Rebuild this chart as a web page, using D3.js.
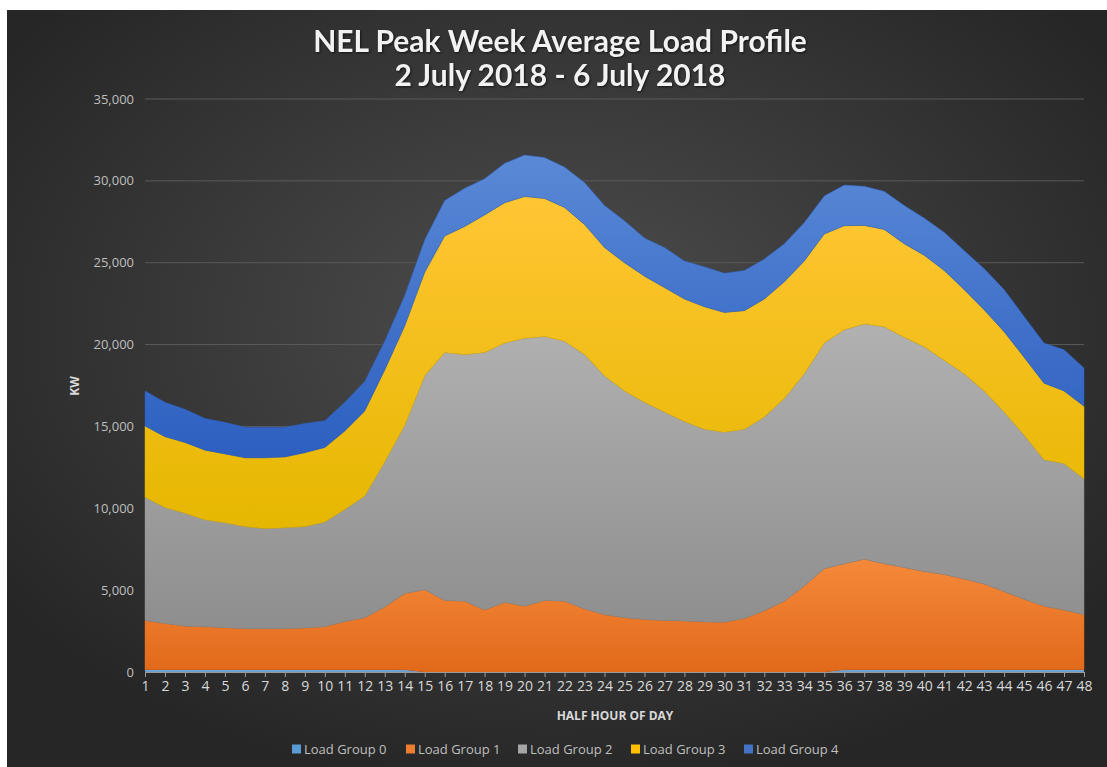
<!DOCTYPE html>
<html><head><meta charset="utf-8">
<script src="https://cdn.jsdelivr.net/npm/d3@7/dist/d3.min.js"></script>
<style>
html,body{margin:0;padding:0;background:#fff;}
svg{display:block;}
</style></head>
<body><svg id="chart" width="1107" height="767"></svg>
<script>
const halfHours = d3.range(1, 49);
const seriesNames = ["Load Group 0","Load Group 1","Load Group 2","Load Group 3","Load Group 4"];
const loadGroup0 = [140,140,140,140,140,140,140,140,140,140,140,140,140,130,0,0,0,0,0,0,0,0,0,0,0,0,0,0,0,0,0,0,0,0,0,130,140,140,140,140,140,140,140,140,140,140,140,140];
const loadGroup1 = [3010,2830,2660,2620,2570,2500,2500,2500,2550,2620,2940,3180,3830,4660,5020,4370,4320,3780,4250,4020,4370,4320,3850,3500,3320,3200,3150,3110,3060,3040,3270,3740,4320,5260,6310,6480,6750,6470,6240,6000,5820,5540,5230,4770,4300,3880,3640,3360];
const loadGroup2 = [7530,7080,6900,6540,6400,6240,6120,6170,6190,6400,6850,7430,8880,10280,13080,15140,15070,15730,15840,16370,16120,15890,15540,14600,13850,13270,12730,12190,11770,11610,11560,11840,12380,12960,13780,14300,14370,14480,14060,13720,13080,12540,11800,10970,10040,8940,8950,8300];
const loadGroup3 = [4340,4320,4320,4250,4210,4200,4320,4320,4510,4550,4790,5200,5600,6070,6310,7120,7820,8410,8570,8650,8430,8170,7940,7830,7830,7710,7600,7480,7480,7310,7240,7200,7130,6890,6660,6350,6020,5940,5720,5600,5490,5140,4950,4910,4750,4680,4440,4440];
const loadGroup4 = [2150,2100,2030,1940,1930,1870,1870,1820,1790,1640,1750,1800,1750,1860,1990,2170,2340,2210,2410,2540,2500,2460,2570,2570,2560,2330,2450,2330,2450,2400,2460,2450,2330,2340,2330,2480,2390,2330,2340,2270,2330,2380,2520,2570,2490,2450,2520,2330];
const yTicks = [0,5000,10000,15000,20000,25000,30000,35000];
const titleLines = ["NEL Peak Week Average Load Profile","2 July 2018 - 6 July 2018"];

const table = halfHours.map((h,i)=>({
  hh:h,
  "Load Group 0":loadGroup0[i],
  "Load Group 1":loadGroup1[i],
  "Load Group 2":loadGroup2[i],
  "Load Group 3":loadGroup3[i],
  "Load Group 4":loadGroup4[i]
}));

const svg = d3.select("#chart");
const defs = svg.append("defs");

const bg = defs.append("radialGradient").attr("id","bg")
  .attr("cx","0.5").attr("cy","0.42").attr("r","0.62");
bg.append("stop").attr("offset","0").attr("stop-color","#4e4e4e");
bg.append("stop").attr("offset","1").attr("stop-color","#262626");
svg.append("rect").attr("x",7).attr("y",10).attr("width",1100).attr("height",757).attr("fill","url(#bg)");

const fills = [
  ["#7ab2e4","#5b9bd5"],
  ["#f5893a","#e2691a"],
  ["#b1b1b1","#8e8e8e"],
  ["#ffc634","#e6b700"],
  ["#5a89d6","#2c5fc0"]
];
const legendColors = ["#5b9bd5","#ed7d31","#a5a5a5","#ffc000","#4472c4"];
fills.forEach((f,i)=>{
  const g = defs.append("linearGradient").attr("id","g"+i).attr("x1",0).attr("y1",0).attr("x2",0).attr("y2",1);
  g.append("stop").attr("offset","0").attr("stop-color",f[0]);
  g.append("stop").attr("offset","1").attr("stop-color",f[1]);
});

const x = d3.scalePoint().domain(halfHours).range([145,1084]);
const y = d3.scaleLinear().domain([0,35000]).range([672,99]);

svg.append("g").selectAll("line").data(yTicks.filter(d=>d>0)).join("line")
  .attr("x1",145).attr("x2",1084)
  .attr("y1",d=>y(d)).attr("y2",d=>y(d))
  .attr("stroke","#5a5a5a").attr("stroke-width",1);

svg.append("g").selectAll("text").data(yTicks).join("text")
  .attr("x",134).attr("y",d=>y(d)).attr("dy","0.35em")
  .attr("text-anchor","end")
  .attr("font-family","'Open Sans',sans-serif").attr("font-size",13)
  .attr("fill","#bfbfbf")
  .text(d=>d3.format(",")(d));

const stack = d3.stack().keys(seriesNames);
const stacked = stack(table);
const area = d3.area()
  .x(d=>x(d.data.hh))
  .y0(d=>y(d[0]))
  .y1(d=>y(d[1]));
svg.append("g").selectAll("path").data(stacked).join("path")
  .attr("d",area)
  .attr("fill",(d,i)=>"url(#g"+i+")")
  .attr("stroke",(d,i)=>fills[i][1])
  .attr("stroke-opacity",(d,i)=>i===0?0:0.6)
  .attr("stroke-width",0.8);

const xAxis = d3.axisBottom(x).tickSize(5).tickPadding(4);
const xg = svg.append("g").attr("transform","translate(0,672)").call(xAxis);
xg.select(".domain").attr("stroke","#9a9a9a").attr("stroke-width",1);
xg.selectAll(".tick line").attr("stroke","#9a9a9a");
xg.selectAll(".tick text").attr("fill","#d9d9d9")
  .attr("font-family","'Open Sans',sans-serif").attr("font-size",14);

svg.append("text").attr("x",615).attr("y",720).attr("text-anchor","middle")
  .attr("font-family","'Open Sans',sans-serif").attr("font-weight",700).attr("font-size",12)
  .attr("fill","#d9d9d9").text("HALF HOUR OF DAY");
svg.append("text").attr("transform","translate(79,386) rotate(-90)").attr("text-anchor","middle")
  .attr("font-family","'Open Sans',sans-serif").attr("font-weight",700).attr("font-size",12)
  .attr("fill","#d9d9d9").text("KW");

const title = svg.append("text").attr("text-anchor","middle")
  .attr("font-family","Lato,sans-serif").attr("font-weight",700).attr("font-size",30)
  .attr("fill","#f2f2f2")
  .style("filter","drop-shadow(1px 1px 1px rgba(0,0,0,0.6))");
titleLines.forEach((t,i)=>{
  title.append("tspan").attr("x",560).attr("y",52+i*34).text(t);
});

const legendX = [292,406,518,631,744];
const lg = svg.append("g").selectAll("g").data(seriesNames).join("g")
  .attr("transform",(d,i)=>`translate(${legendX[i]},749)`);
lg.append("rect").attr("x",0).attr("y",-4.5).attr("width",9).attr("height",9)
  .attr("fill",(d,i)=>legendColors[i]);
lg.append("text").attr("x",12).attr("y",0).attr("dy","0.35em")
  .attr("font-family","'Open Sans',sans-serif").attr("font-size",13)
  .attr("fill","#bfbfbf").text(d=>d);
</script>
</body></html>
